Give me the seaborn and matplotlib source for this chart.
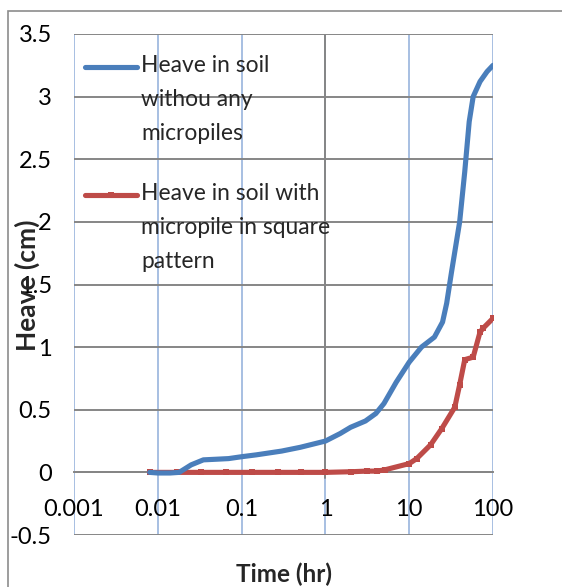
import numpy as np
import pandas as pd
import matplotlib
matplotlib.use("Agg")
import matplotlib.pyplot as plt
import seaborn as sns
from matplotlib.patches import Rectangle
from matplotlib.legend_handler import HandlerLine2D
from matplotlib.transforms import Affine2D

# ---- data ----
time_plain = [0.008, 0.01, 0.014, 0.018, 0.025, 0.035, 0.05, 0.07, 0.1, 0.15, 0.3,
              0.5, 1, 1.5, 2, 3, 4, 5, 7, 10, 14, 20, 25, 28, 32, 40, 46, 52, 58,
              70, 85, 100]
heave_plain = [0.0, -0.005, -0.005, 0.0, 0.06, 0.1, 0.105, 0.11, 0.125, 0.14, 0.17,
               0.2, 0.25, 0.31, 0.36, 0.41, 0.47, 0.55, 0.72, 0.88, 1.0, 1.08, 1.2,
               1.35, 1.6, 2.0, 2.4, 2.8, 3.0, 3.12, 3.2, 3.25]

time_square = [0.008, 0.017, 0.033, 0.066, 0.133, 0.27, 0.51, 1, 2, 3.1, 4.1, 5.1,
               10, 12.3, 18, 24.5, 35, 40, 46, 58, 70, 76, 100]
heave_square = [0.0, 0.0, 0.0, 0.0, 0.0, 0.0, 0.0, 0.0, 0.005, 0.01, 0.01, 0.02,
                0.07, 0.11, 0.22, 0.35, 0.52, 0.7, 0.9, 0.92, 1.12, 1.15, 1.23]

label_plain = "Heave in soil\nwithou any\nmicropiles"
label_square = "Heave in soil with\nmicropile in square\npattern"

x_ticks = [0.001, 0.01, 0.1, 1, 10, 100]
x_tick_labels = ["0.001", "0.01", "0.1", "1", "10", "100"]
y_ticks = [-0.5, 0, 0.5, 1, 1.5, 2, 2.5, 3, 3.5]
y_tick_labels = ["-0.5", "0", "0.5", "1", "1.5", "2", "2.5", "3", "3.5"]

BLUE = "#4A7EBB"
RED = "#BE4B48"

sns.set_style("white")
plt.rcParams["font.family"] = ["Lato", "DejaVu Sans"]

fig = plt.figure(figsize=(5.62, 5.87), dpi=100)
ax = fig.add_axes([74 / 562, 1 - 535 / 587, 419 / 562, 501 / 587])

df_plain = pd.DataFrame({"t": time_plain, "h": heave_plain})
df_square = pd.DataFrame({"t": time_square, "h": heave_square})

sns.lineplot(data=df_plain, x="t", y="h", ax=ax, color=BLUE, lw=3.7,
             label=label_plain, zorder=4)
sns.lineplot(data=df_square, x="t", y="h", ax=ax, color=RED, lw=3.7,
             marker="s", markersize=5, markeredgewidth=0,
             label=label_square, zorder=3)

ax.set_xscale("log")
ax.set_xlim(0.001, 100)
ax.set_ylim(-0.5, 3.5)
ax.set_xticks(x_ticks, x_tick_labels)
ax.set_yticks(y_ticks, y_tick_labels)
ax.minorticks_off()

# grid: gray horizontals, light blue verticals
ax.grid(axis="y", color="#868686", lw=1.4)
ax.grid(axis="x", color="#A7BFE2", lw=1.4)
ax.set_axisbelow(True)

for s in ["top", "right", "left"]:
    ax.spines[s].set_visible(False)
ax.spines["bottom"].set_position(("data", 0))
ax.spines["bottom"].set_color("#868686")
ax.spines["bottom"].set_linewidth(1.4)
# vertical axis crossing at x = 1
ax.axvline(1, ymin=0.113, ymax=1, color="#868686", lw=1.4, zorder=1)

ax.tick_params(axis="x", length=5, width=1.2, color="#868686", pad=14,
               labelsize=17, labelcolor="black")
ax.tick_params(axis="y", length=0, pad=16, labelsize=17, labelcolor="black")

ax.set_xlabel("Time (hr)", fontsize=17.5, fontweight="bold")
ax.xaxis.set_label_coords(0.5, -0.054)
ax.set_ylabel("")
fig.text(27 / 562, 1 - 285 / 587, "Heave (cm)", rotation=90, ha="center",
         va="center", fontsize=19, fontweight="bold")


class TopLineHandler(HandlerLine2D):
    # put the legend line next to the first text line, like Excel does
    def create_artists(self, legend, orig_handle, xdescent, ydescent, width,
                       height, fontsize, trans):
        arts = super().create_artists(legend, orig_handle, xdescent, ydescent,
                                      width, height, fontsize, trans)
        for a in arts:
            a.set_transform(Affine2D().translate(0, 23.8) + trans)
        return arts


handles, labels = ax.get_legend_handles_labels()
leg = ax.legend(handles, labels, loc="upper left", frameon=False,
                fontsize=16.4, handlelength=2.3, handletextpad=0.17,
                labelspacing=1.75, borderaxespad=0, borderpad=0,
                bbox_to_anchor=(0.026, 0.958),
                handler_map={h: TopLineHandler() for h in handles})
for t in leg.get_texts():
    t.set_linespacing(1.75)

# outer chart border
fig.add_artist(Rectangle((8 / 562, -0.1), 1.2, 1.1 - 10.5 / 587,
                         transform=fig.transFigure, fill=False,
                         ec="#8C8C8C", lw=1.2))

fig.savefig("out.png", dpi=100)
